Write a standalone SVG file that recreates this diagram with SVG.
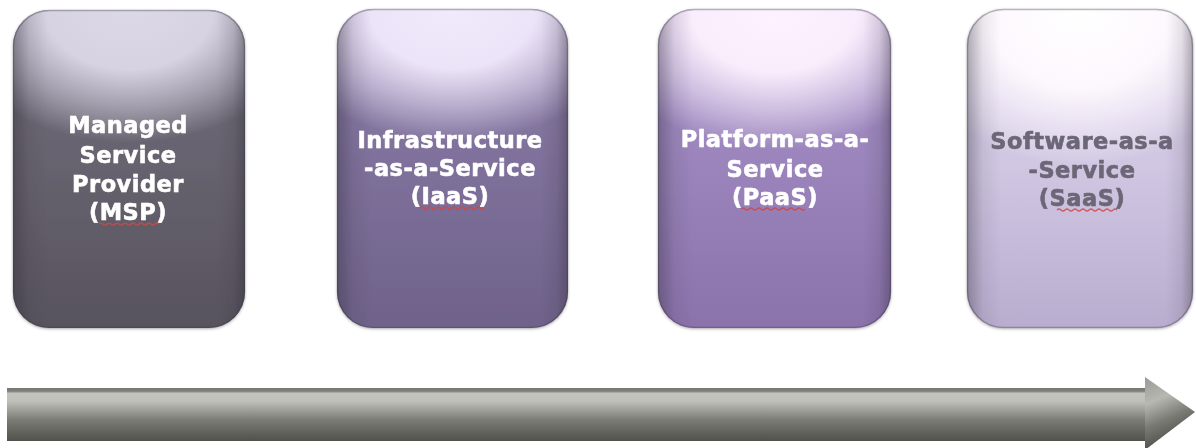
<svg xmlns="http://www.w3.org/2000/svg" width="1196" height="448" viewBox="0 0 1196 448">
<style>
  .lbl { font-family: "DejaVu Sans", Verdana, sans-serif; font-weight: bold; font-size: 22.5px; letter-spacing: 0.5px; text-anchor: middle; fill: #ffffff; stroke: #ffffff; stroke-width: 0.6px; }
  .lbl.dark { fill: #6c6676; stroke: #6c6676; }
  .rim { fill: none; stroke: #3c3844; stroke-opacity: 0.35; stroke-width: 1.5; }
  .squig { fill: none; stroke: #d04848; stroke-width: 1.2; stroke-opacity: 0.85; }
</style>
<defs>
  <linearGradient id="g1" x1="0" y1="0" x2="0" y2="1">
    <stop offset="0" stop-color="#726e7c"/>
    <stop offset="0.5" stop-color="#66626e"/>
    <stop offset="1" stop-color="#57535e"/>
  </linearGradient>
  <linearGradient id="g2" x1="0" y1="0" x2="0" y2="1">
    <stop offset="0" stop-color="#8e80aa"/>
    <stop offset="0.5" stop-color="#7e709a"/>
    <stop offset="1" stop-color="#6f628a"/>
  </linearGradient>
  <linearGradient id="g3" x1="0" y1="0" x2="0" y2="1">
    <stop offset="0" stop-color="#a892ca"/>
    <stop offset="0.5" stop-color="#9a84bb"/>
    <stop offset="1" stop-color="#8a72ab"/>
  </linearGradient>
  <linearGradient id="g4" x1="0" y1="0" x2="0" y2="1">
    <stop offset="0" stop-color="#dcd4ea"/>
    <stop offset="0.5" stop-color="#d0c6e2"/>
    <stop offset="1" stop-color="#b9adcf"/>
  </linearGradient>
  <radialGradient id="hl1" cx="0.5" cy="0" r="0.8" fx="0.5" fy="0" gradientTransform="translate(0.5 0) scale(1 0.52) translate(-0.5 0)">
    <stop offset="0" stop-color="#dcd8e8" stop-opacity="1"/>
    <stop offset="0.45" stop-color="#dcd8e8" stop-opacity="0.95"/>
    <stop offset="0.75" stop-color="#dcd8e8" stop-opacity="0.45"/>
    <stop offset="1" stop-color="#dcd8e8" stop-opacity="0"/>
  </radialGradient>
  <radialGradient id="hl2" cx="0.5" cy="0" r="0.8" fx="0.5" fy="0" gradientTransform="translate(0.5 0) scale(1 0.52) translate(-0.5 0)">
    <stop offset="0" stop-color="#f1e9fc" stop-opacity="1"/>
    <stop offset="0.45" stop-color="#f1e9fc" stop-opacity="0.95"/>
    <stop offset="0.75" stop-color="#f1e9fc" stop-opacity="0.45"/>
    <stop offset="1" stop-color="#f1e9fc" stop-opacity="0"/>
  </radialGradient>
  <radialGradient id="hl3" cx="0.5" cy="0" r="0.8" fx="0.5" fy="0" gradientTransform="translate(0.5 0) scale(1 0.55) translate(-0.5 0)">
    <stop offset="0" stop-color="#fdf2ff" stop-opacity="1"/>
    <stop offset="0.45" stop-color="#fdf2ff" stop-opacity="0.95"/>
    <stop offset="0.75" stop-color="#fdf2ff" stop-opacity="0.45"/>
    <stop offset="1" stop-color="#fdf2ff" stop-opacity="0"/>
  </radialGradient>
  <radialGradient id="hl4" cx="0.5" cy="0" r="0.82" fx="0.5" fy="0" gradientTransform="translate(0.5 0) scale(1 0.6) translate(-0.5 0)">
    <stop offset="0" stop-color="#ffffff" stop-opacity="1"/>
    <stop offset="0.5" stop-color="#fffaff" stop-opacity="0.95"/>
    <stop offset="0.78" stop-color="#fff8ff" stop-opacity="0.45"/>
    <stop offset="1" stop-color="#ffffff" stop-opacity="0"/>
  </radialGradient>
  <linearGradient id="edgeL" x1="0" y1="0" x2="1" y2="0">
    <stop offset="0" stop-color="#2a2630" stop-opacity="0.35"/>
    <stop offset="0.07" stop-color="#2a2630" stop-opacity="0.08"/>
    <stop offset="0.15" stop-color="#2a2630" stop-opacity="0"/>
    <stop offset="0.88" stop-color="#2a2630" stop-opacity="0"/>
    <stop offset="0.95" stop-color="#2a2630" stop-opacity="0.1"/>
    <stop offset="1" stop-color="#2a2630" stop-opacity="0.35"/>
  </linearGradient>
  <linearGradient id="bar" x1="0" y1="0" x2="0" y2="1">
    <stop offset="0" stop-color="#787874"/>
    <stop offset="0.06" stop-color="#7e7e7a"/>
    <stop offset="0.1" stop-color="#c4c4be"/>
    <stop offset="0.25" stop-color="#c0c0ba"/>
    <stop offset="0.6" stop-color="#7c7c76"/>
    <stop offset="1" stop-color="#51514c"/>
  </linearGradient>
  <linearGradient id="head" x1="0" y1="0" x2="0.3" y2="1">
    <stop offset="0" stop-color="#9a9a96"/>
    <stop offset="0.35" stop-color="#b8b8b2"/>
    <stop offset="0.65" stop-color="#7a7a74"/>
    <stop offset="1" stop-color="#4a4a46"/>
  </linearGradient>
  <filter id="sh" x="-10%" y="-10%" width="120%" height="120%">
    <feGaussianBlur in="SourceAlpha" stdDeviation="1.5"/>
    <feOffset dx="0" dy="1"/>
    <feComponentTransfer><feFuncA type="linear" slope="0.3"/></feComponentTransfer>
    <feMerge><feMergeNode/><feMergeNode in="SourceGraphic"/></feMerge>
  </filter>
  <filter id="soft" x="-5%" y="-20%" width="110%" height="140%">
    <feGaussianBlur stdDeviation="0.45"/>
  </filter>
</defs>
<rect width="1196" height="448" fill="#ffffff"/>

<g id="node-msp" filter="url(#sh)">
  <rect x="13" y="10" width="232" height="318" rx="36" fill="url(#g1)"/>
  <rect x="13" y="10" width="232" height="318" rx="36" fill="url(#hl1)"/>
  <rect x="13" y="10" width="232" height="318" rx="36" fill="url(#edgeL)"/>
  <rect class="rim" x="13.5" y="10.5" width="231" height="317" rx="36"/>
  <g filter="url(#soft)">
    <text class="lbl" x="128" y="133">Managed</text>
    <text class="lbl" x="128" y="163">Service</text>
    <text class="lbl" x="128" y="192">Provider</text>
    <text class="lbl" x="128" y="220">(MSP)</text>
  </g>
  <path class="squig" d="M99 224 q2 -2 4 0 t4 0 t4 0 t4 0 t4 0 t4 0 t4 0 t4 0 t4 0 t4 0 t4 0 t4 0 t4 0 t4 0 t4 0"/>
</g>

<g id="node-iaas" filter="url(#sh)">
  <rect x="337" y="9" width="231" height="319" rx="36" fill="url(#g2)"/>
  <rect x="337" y="9" width="231" height="319" rx="36" fill="url(#hl2)"/>
  <rect x="337" y="9" width="231" height="319" rx="36" fill="url(#edgeL)"/>
  <rect class="rim" x="337.5" y="9.5" width="230" height="318" rx="36"/>
  <g filter="url(#soft)">
    <text class="lbl" x="450" y="148">Infrastructure</text>
    <text class="lbl" x="450" y="176">-as-a-Service</text>
    <text class="lbl" x="450" y="204">(IaaS)</text>
  </g>
  <path class="squig" d="M420 208 q2 -2 4 0 t4 0 t4 0 t4 0 t4 0 t4 0 t4 0 t4 0 t4 0 t4 0 t4 0 t4 0 t4 0 t4 0 t4 0 t4 0"/>
</g>

<g id="node-paas" filter="url(#sh)">
  <rect x="658" y="9" width="233" height="319" rx="36" fill="url(#g3)"/>
  <rect x="658" y="9" width="233" height="319" rx="36" fill="url(#hl3)"/>
  <rect x="658" y="9" width="233" height="319" rx="36" fill="url(#edgeL)"/>
  <rect class="rim" x="658.5" y="9.5" width="232" height="318" rx="36"/>
  <g filter="url(#soft)">
    <text class="lbl" x="775" y="147">Platform-as-a-</text>
    <text class="lbl" x="775" y="177">Service</text>
    <text class="lbl" x="775" y="205">(PaaS)</text>
  </g>
  <path class="squig" d="M741 209 q2 -2 4 0 t4 0 t4 0 t4 0 t4 0 t4 0 t4 0 t4 0 t4 0 t4 0 t4 0 t4 0 t4 0 t4 0 t4 0 t4 0"/>
</g>

<g id="node-saas" filter="url(#sh)">
  <rect x="967" y="9" width="226" height="319" rx="36" fill="url(#g4)"/>
  <rect x="967" y="9" width="226" height="319" rx="36" fill="url(#hl4)"/>
  <rect x="967" y="9" width="226" height="319" rx="36" fill="url(#edgeL)"/>
  <rect class="rim" x="967.5" y="9.5" width="225" height="318" rx="36"/>
  <g filter="url(#soft)">
    <text class="lbl dark" x="1082" y="149">Software-as-a</text>
    <text class="lbl dark" x="1082" y="178">-Service</text>
    <text class="lbl dark" x="1082" y="206">(SaaS)</text>
  </g>
  <path class="squig" d="M1057 210 q2 -2 4 0 t4 0 t4 0 t4 0 t4 0 t4 0 t4 0 t4 0 t4 0 t4 0 t4 0 t4 0 t4 0 t4 0 t4 0"/>
</g>

<g id="connectors">
  <path d="M7 388 H1147 V441 H7 Z" fill="url(#bar)"/>
  <path d="M1145 377 L1195 412 L1145 450 Z" fill="url(#head)"/>
</g>
</svg>
